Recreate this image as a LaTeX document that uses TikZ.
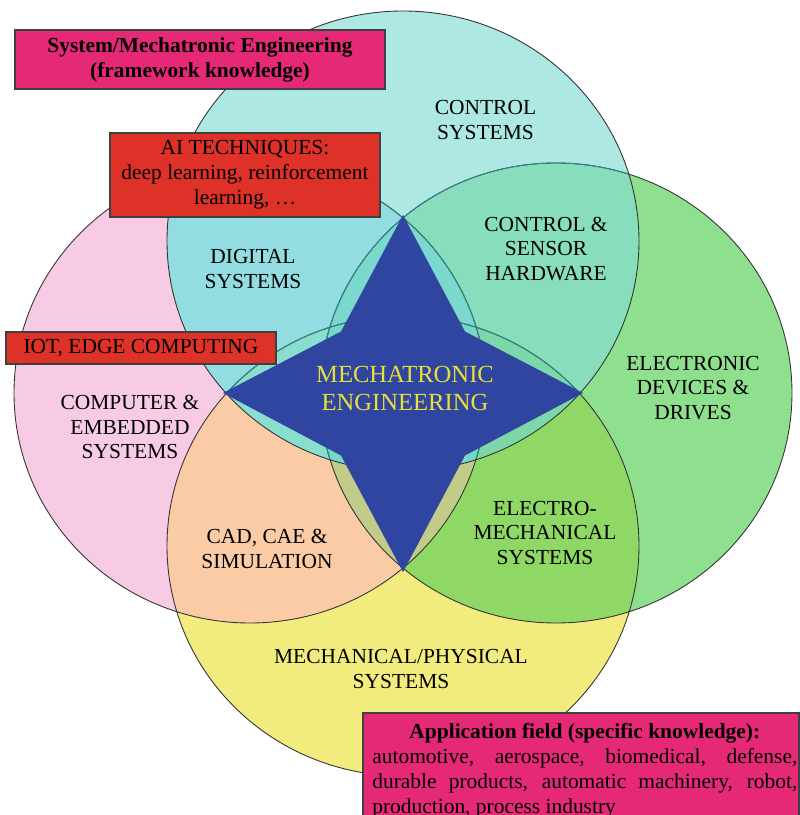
\documentclass[tikz,border=0pt]{standalone}
\usepackage{fontspec}
\setmainfont{Liberation Serif}

% fills of the four areas and of their overlaps
\definecolor{cT}{HTML}{ADE8E2}
\definecolor{cL}{HTML}{F8CBE4}
\definecolor{cR}{HTML}{8EE08F}
\definecolor{cB}{HTML}{F2EC7E}
\definecolor{cTL}{HTML}{93DCE2}
\definecolor{cTR}{HTML}{88DDBC}
\definecolor{cLB}{HTML}{FACBA5}
\definecolor{cRB}{HTML}{8FD865}
\definecolor{cTLR}{HTML}{7AD8CC}
\definecolor{cTLB}{HTML}{8ADECE}
\definecolor{cTRB}{HTML}{7DD8A9}
\definecolor{cLRB}{HTML}{C1CC8A}
\definecolor{cAll}{HTML}{76D6C8}
\definecolor{starblue}{HTML}{3045A0}
\definecolor{staryellow}{HTML}{E8E03A}
\definecolor{boxpink}{HTML}{E52977}
\definecolor{boxred}{HTML}{DE3127}
\definecolor{innerline}{HTML}{2E8A8A}

\newcommand{\areaT}{(8.06,11.48) ellipse (4.72 and 4.6)}
\newcommand{\areaL}{(5.0,8.44) ellipse (4.72 and 4.6)}
\newcommand{\areaR}{(11.12,8.44) ellipse (4.72 and 4.6)}
\newcommand{\areaB}{(8.06,5.38) ellipse (4.72 and 4.6)}

\tikzset{
  lbl/.style={align=center, font=\fontsize{12.2}{13.9}\selectfont},
  tagbox/.style={draw=black!75, line width=0.6pt, inner sep=0pt, align=center,
    font=\fontsize{12.2}{14.2}\selectfont},
}

\begin{document}
\begin{tikzpicture}
  \clip (0,0) rectangle (16,16.3);
  % single areas
  \fill[cT] \areaT;
  \fill[cL] \areaL;
  \fill[cR] \areaR;
  \fill[cB] \areaB;
  % two at a time
  \begin{scope}
    \clip \areaT;
    \fill[cTL] \areaL;
    \fill[cTR] \areaR;
  \end{scope}
  \begin{scope}
    \clip \areaB;
    \fill[cLB] \areaL;
    \fill[cRB] \areaR;
  \end{scope}
  % three at a time
  \begin{scope}
    \clip \areaT; \clip \areaL;
    \fill[cTLR] \areaR;
    \fill[cTLB] \areaB;
  \end{scope}
  \begin{scope}
    \clip \areaT; \clip \areaR;
    \fill[cTRB] \areaB;
  \end{scope}
  \begin{scope}
    \clip \areaL; \clip \areaR;
    \fill[cLRB] \areaB;
  \end{scope}
  \begin{scope}
    \clip \areaT; \clip \areaL; \clip \areaR;
    \fill[cAll] \areaB;
  \end{scope}
  % outlines
  \draw[black!80, line width=0.5pt] \areaL \areaR \areaB;
  \begin{scope}
    \clip \areaT;
    \draw[innerline, line width=0.5pt] \areaL \areaR \areaB;
  \end{scope}
  \draw[black!80, line width=0.5pt] \areaT;

  % four pointed star
  \fill[starblue] (8.06,12.0) -- (9.30,9.67) -- (11.66,8.44) -- (9.30,7.19)
    -- (8.06,4.86) -- (6.82,7.19) -- (4.46,8.44) -- (6.82,9.67) -- cycle;

  \node[lbl] (ctrl) at (9.71,13.9) {CONTROL\\SYSTEMS};
  \node[lbl] (sensor) at (10.92,11.32) {CONTROL \&\\SENSOR\\HARDWARE};
  \node[lbl] (drives) at (13.86,8.54) {ELECTRONIC\\DEVICES \&\\DRIVES};
  \node[lbl] (digital) at (5.06,10.92) {DIGITAL\\SYSTEMS};
  \node[lbl] (embedded) at (2.6,7.76) {COMPUTER \&\\EMBEDDED\\SYSTEMS};
  \node[lbl, text=staryellow, font=\fontsize{14}{15.4}\selectfont] (core) at (8.1,8.53) {MECHATRONIC\\ENGINEERING};
  \node[lbl] (cad) at (5.34,5.32) {CAD, CAE \&\\SIMULATION};
  \node[lbl] (electromech) at (10.9,5.64) {ELECTRO-\\MECHANICAL\\SYSTEMS};
  \node[lbl] (mech) at (8.02,2.92) {MECHANICAL/PHYSICAL\\SYSTEMS};

  % knowledge tags
  \node[tagbox, fill=boxpink, minimum width=7.4cm, minimum height=1.18cm, font=\fontsize{12.2}{14.2}\selectfont\bfseries]
    (sysbox) at (4.0,15.11) {System/Mechatronic Engineering\\(framework knowledge)};
  \node[tagbox, fill=boxred, minimum width=5.4cm, minimum height=1.68cm]
    (aibox) at (4.9,12.8) {AI TECHNIQUES:\\deep learning, reinforcement\\learning, …};
  \node[tagbox, fill=boxred, minimum width=5.4cm, minimum height=0.64cm]
    (iotbox) at (2.82,9.34) {IOT, EDGE COMPUTING};
  \draw[fill=boxpink, draw=black!75, line width=0.6pt] (7.26,-0.6) rectangle (15.98,2.04);
  \node[anchor=north west, inner sep=0pt, text width=8.5cm, align=justify, font=\fontsize{12.2}{14.2}\selectfont]
    (appbox) at (7.44,1.84) {\noindent\makebox[\linewidth]{\bfseries Application field (specific knowledge):}\par
    \noindent automotive, aerospace, biomedical, defense,\linebreak
    durable products, automatic machinery, robot,\linebreak
    production, process industry};
\end{tikzpicture}
\end{document}
